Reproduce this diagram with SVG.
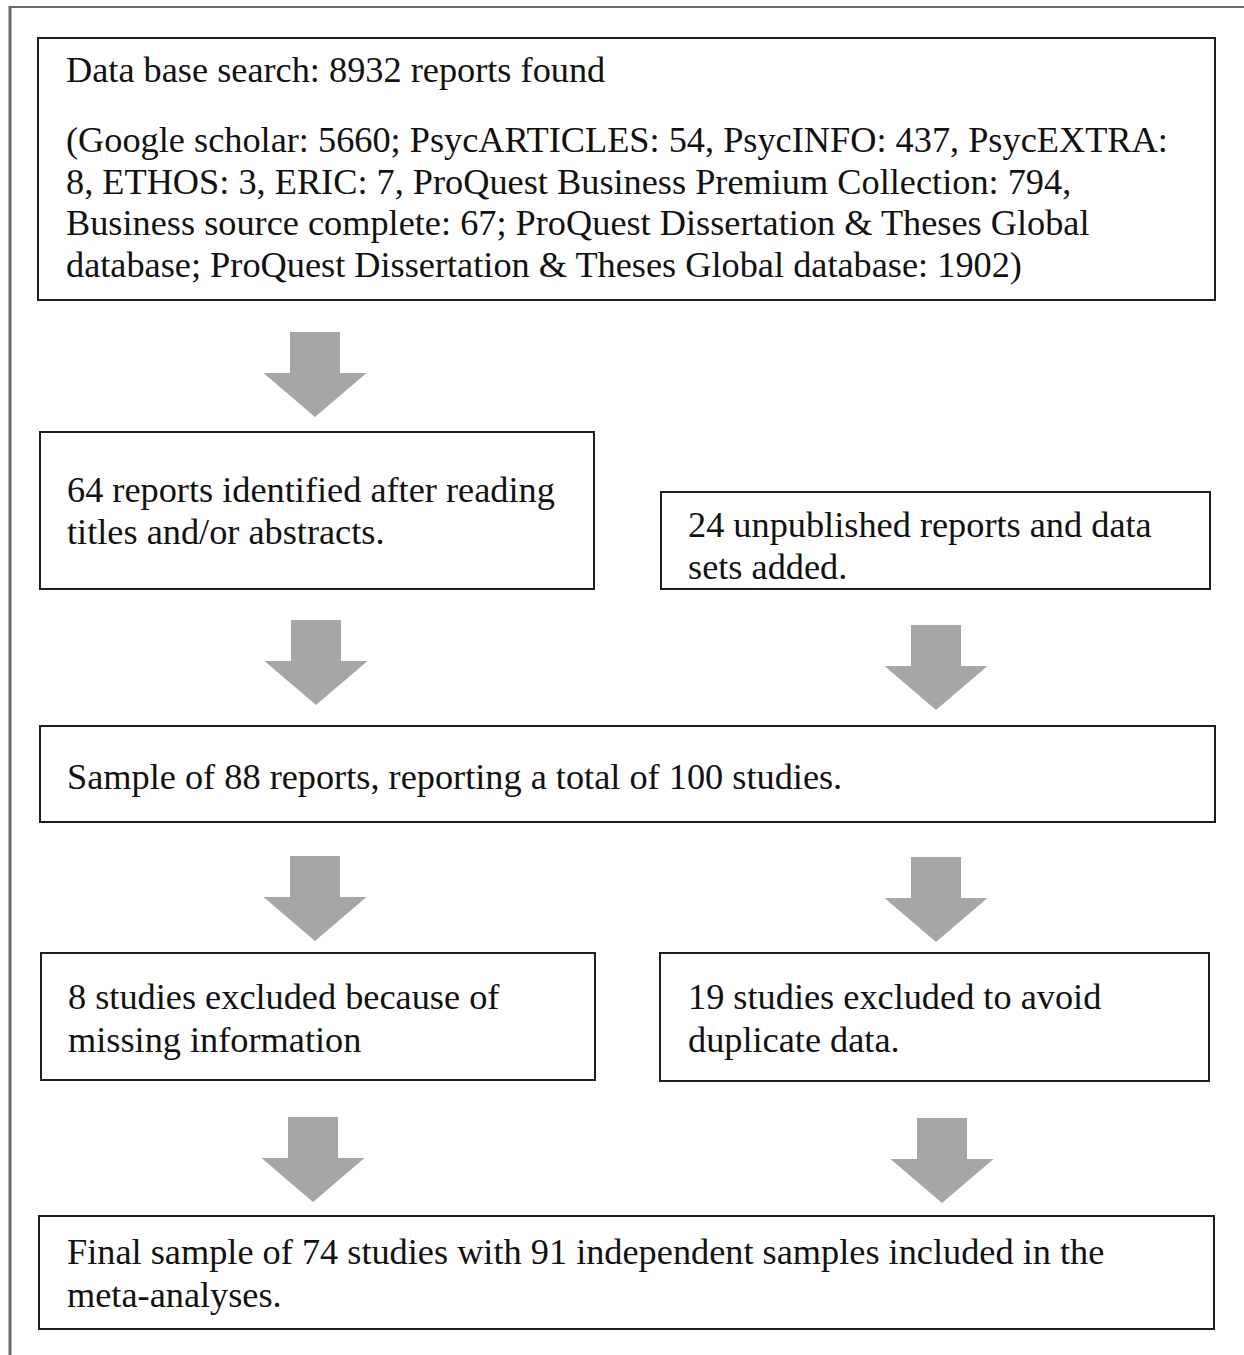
<svg xmlns="http://www.w3.org/2000/svg" xmlns:xlink="http://www.w3.org/1999/xlink" width="1244" height="1355" viewBox="0 0 1244 1355">
<style>
.box{fill:#fff;stroke:#1e1e1e;stroke-width:2}
.t{font-family:"Liberation Serif","Times New Roman",serif;font-size:36.3px;fill:#111}
.frame{stroke:#6a6a6a;fill:none}
.arr{fill:#a6a6a6}
</style>
<defs>
<path id="arrow" d="M-25,0 H25 V41 H51.5 L0,85 L-51.5,41 H-25 Z"/>
</defs>
<rect width="1244" height="1355" fill="#fff"/>
<g id="frame">
<line class="frame" x1="10" y1="7" x2="1244" y2="7" stroke-width="2"/>
<line class="frame" x1="10" y1="6" x2="10" y2="1355" stroke-width="3"/>
</g>
<g id="connectors">
<use xlink:href="#arrow" class="arr" x="315" y="332"/>
<use xlink:href="#arrow" class="arr" x="316" y="620"/>
<use xlink:href="#arrow" class="arr" x="936" y="625"/>
<use xlink:href="#arrow" class="arr" x="315" y="856"/>
<use xlink:href="#arrow" class="arr" x="936" y="857"/>
<use xlink:href="#arrow" class="arr" x="313" y="1117"/>
<use xlink:href="#arrow" class="arr" x="942" y="1118"/>
</g>
<g id="node-search">
<rect class="box" x="38" y="38" width="1177" height="262"/>
<text class="t" x="66" y="82">Data base search: 8932 reports found</text>
<text class="t" x="66" y="152">(Google scholar: 5660; PsycARTICLES: 54, PsycINFO: 437, PsycEXTRA:</text>
<text class="t" x="66" y="193.5">8, ETHOS: 3, ERIC: 7, ProQuest Business Premium Collection: 794,</text>
<text class="t" x="66" y="235">Business source complete: 67; ProQuest Dissertation &amp; Theses Global</text>
<text class="t" x="66" y="276.5">database; ProQuest Dissertation &amp; Theses Global database: 1902)</text>
</g>
<g id="node-identified">
<rect class="box" x="40" y="432" width="554" height="157"/>
<text class="t" x="67" y="502">64 reports identified after reading</text>
<text class="t" x="67" y="544">titles and/or abstracts.</text>
</g>
<g id="node-unpublished">
<rect class="box" x="661" y="492" width="549" height="97"/>
<text class="t" x="688" y="537">24 unpublished reports and data</text>
<text class="t" x="688" y="579">sets added.</text>
</g>
<g id="node-sample">
<rect class="box" x="40" y="726" width="1175" height="96"/>
<text class="t" x="67" y="789">Sample of 88 reports, reporting a total of 100 studies.</text>
</g>
<g id="node-missing">
<rect class="box" x="41" y="953" width="554" height="127"/>
<text class="t" x="68" y="1009">8 studies excluded because of</text>
<text class="t" x="68" y="1052">missing information</text>
</g>
<g id="node-duplicate">
<rect class="box" x="660" y="953" width="549" height="128"/>
<text class="t" x="688" y="1009">19 studies excluded to avoid</text>
<text class="t" x="688" y="1052">duplicate data.</text>
</g>
<g id="node-final">
<rect class="box" x="39" y="1216" width="1175" height="113"/>
<text class="t" x="67" y="1264">Final sample of 74 studies with 91 independent samples included in the</text>
<text class="t" x="67" y="1307">meta-analyses.</text>
</g>
</svg>
